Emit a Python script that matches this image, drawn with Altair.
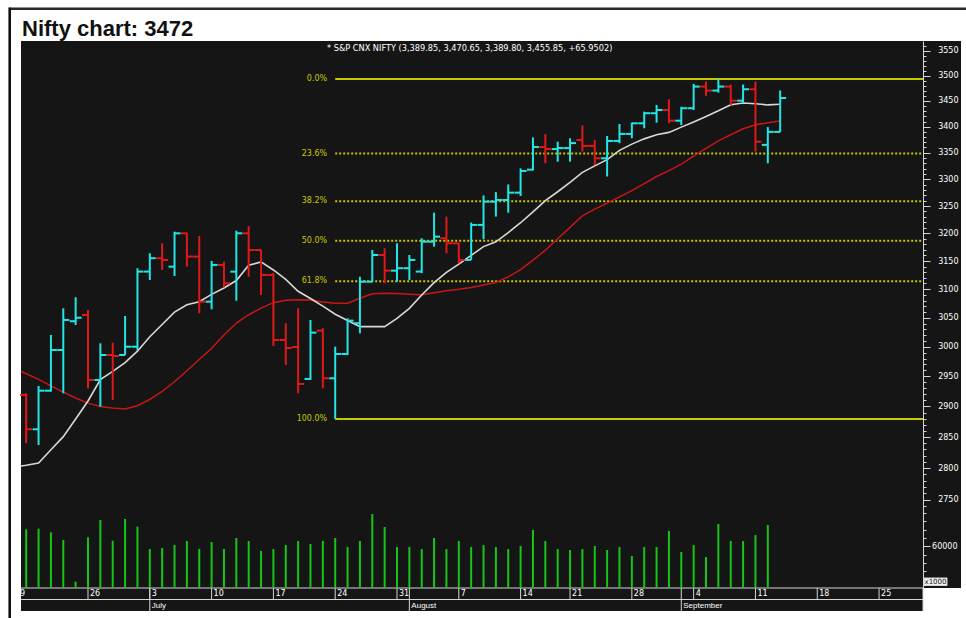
import altair as alt
import pandas as pd

# ---------------- data ----------------
calendar = [d.strftime("%Y-%m-%d") for d in pd.bdate_range("2006-06-16", "2006-09-29")
            if d.strftime("%Y-%m-%d") != "2006-08-15"]

ma_dates = calendar[0:63]      # 16 Jun .. 13 Sep
bar_dates = calendar[1:63]     # 19 Jun .. 13 Sep
vol_dates = calendar[1:62]     # 19 Jun .. 12 Sep

opens = [2919, 2862.6, 2926.1, 2994.6, 3044, 3054.8, 2944, 2986.1, 2986.1, 3000.2,
         3131.1, 3155, 3139.9, 3200, 3157.9, 3078, 3143, 3131, 3200, 3169.8,
         3125.1, 3011.7, 2999.7, 2945.7, 3027.8, 2946.8, 2987.8, 3040.5, 3113.2, 3160.8,
         3132.8, 3137.1, 3131.1, 3184.8, 3191, 3181.9, 3151.9, 3215.3, 3258.1, 3261.2,
         3274.8, 3317.9, 3360.8, 3357, 3358.9, 3374.4, 3362.9, 3339.4, 3372.5, 3386,
         3406.5, 3426.1, 3432.4, 3411.6, 3435.8, 3478.4, 3470.5, 3478.4, 3450.6, 3473.1,
         3365, 3389.85]
highs = [2921.8, 2933.9, 3020.3, 3066.5, 3085.8, 3063.5, 3006, 3007, 3053.1, 3137,
         3163.9, 3181.9, 3203, 3201.2, 3195.2, 3150.1, 3148.8, 3204.8, 3213.3, 3169.8,
         3128.3, 3040.5, 3066.5, 3046.2, 3031.9, 3000.2, 3049.1, 3122, 3169.8, 3172.9,
         3181.9, 3160.8, 3191, 3237.8, 3230.5, 3183, 3219.5, 3269.6, 3275.8, 3290.2,
         3320.4, 3379.3, 3385.6, 3371.1, 3377.6, 3402.2, 3374.4, 3382.1, 3405.2, 3407.7,
         3429.2, 3442.3, 3453.6, 3438.7, 3483.7, 3488.3, 3493.4, 3482.4, 3482.4, 3488.3,
         3399.2, 3470.65]
lows = [2840, 2837.2, 2924.5, 2921.8, 3037.5, 2930, 2899.7, 2910.7, 2986.1, 2994.6,
        3116.2, 3134, 3123.3, 3139.9, 3057.8, 3064.7, 3103.3, 3079.7, 3122, 3089.8,
        3001.4, 2969.2, 2921.8, 2944, 2930, 2879.5, 2986, 3023.2, 3113.2, 3110.3,
        3113.2, 3116.2, 3128.3, 3175.8, 3163.9, 3146, 3151.9, 3189.2, 3230.5, 3237.8,
        3268.6, 3316.6, 3329.9, 3333, 3333, 3352.4, 3326.8, 3305, 3368.2, 3377.6,
        3396.9, 3407.7, 3406.5, 3403.2, 3432.4, 3460, 3466.4, 3442.3, 3445.6, 3352.4,
        3329.9, 3389.8]
closes = [2862.6, 2926.1, 2994.6, 3046.2, 3050, 2944, 2986.1, 2984.4, 3000.2, 3131.1,
          3155, 3151.9, 3200, 3157.9, 3078, 3143, 3110.3, 3200, 3169.8, 3125.1,
          3011.7, 2998, 2937.3, 3024.3, 2946.8, 2987.8, 3045, 3113.2, 3160.8, 3132.8,
          3137.1, 3151.9, 3184.8, 3193.9, 3181.9, 3151.9, 3215.3, 3258.1, 3261.2, 3274.8,
          3315.4, 3360.8, 3357, 3358.9, 3368.4, 3362.9, 3339.4, 3372.5, 3386, 3406.5,
          3426.1, 3432.4, 3411.6, 3435.8, 3478.4, 3470.5, 3478.4, 3450.6, 3473.1, 3371.1,
          3389.9, 3455.85]
volumes = [84500, 85400, 80200, 69100, 9100, 73000, 97900, 68100, 99400, 88300,
           56200, 57600, 61900, 67700, 56200, 66200, 56200, 72000, 67700, 53300,
           56200, 61900, 67700, 63400, 67700, 72000, 59000, 67700, 106600, 87800,
           59000, 59000, 56200, 72000, 56200, 67700, 59000, 61900, 59000, 56200,
           60500, 83500, 67700, 56200, 54700, 56200, 60500, 54700, 59000, 46100,
           59000, 59000, 82100, 51800, 61900, 44600, 92200, 67700, 67700, 76300,
           90700]
ma_fast = [2802, 2804.7, 2808.3, 2829.4, 2850.6, 2879.3, 2909, 2944.5, 2958.3, 2973.2,
           2992.6, 3017.2, 3038.4, 3059.7, 3072.5, 3077.9, 3090.8, 3102.1, 3115.2, 3142.4,
           3148.3, 3134, 3117.4, 3096.3, 3083.5, 3070.1, 3056.1, 3045.3, 3034.6, 3034.6,
           3034.6, 3049, 3066.3, 3089.8, 3111.6, 3129.8, 3144.5, 3160.2, 3175.9, 3184.6,
           3201.3, 3219.3, 3239.3, 3260.1, 3276.5, 3294, 3312.8, 3325.1, 3336.8, 3354.5,
           3366.4, 3376.5, 3384.3, 3389, 3399.1, 3409.1, 3419.8, 3430.8, 3442.8, 3446.2,
           3444.6, 3442.3, 3443.5]
ma_slow = [2964, 2954.5, 2945, 2934.1, 2923.7, 2914, 2905.5, 2900, 2897.5, 2895.7,
           2901.1, 2911.8, 2924.8, 2941, 2959.4, 2978.4, 2997.5, 3020.1, 3040.9, 3055.2,
           3066.8, 3076.3, 3080.6, 3081.5, 3080.8, 3077.3, 3075.3, 3075.4, 3084, 3092,
           3092.8, 3092.2, 3091, 3090.2, 3093.8, 3097, 3099.8, 3103.1, 3107.4, 3111.8,
           3121.7, 3134.7, 3151.4, 3169.4, 3190, 3210.8, 3232.1, 3244.2, 3255.5, 3267.1,
           3278.7, 3291.5, 3305, 3316.2, 3328.2, 3343.4, 3358.2, 3372.5, 3384.5, 3395.9,
           3403.8, 3407.5, 3411]

fib_labels = ["0.0%", "23.6%", "38.2%", "50.0%", "61.8%", "100.0%"]
fib_prices = [3493.4, 3348.5, 3258.9, 3186.5, 3114.0, 2879.5]
fib_solid = [True, False, False, False, False, True]
fib_start = "2006-07-24"

week_labels = ["19", "26", "3", "10", "17", "24", "31", "7", "14", "21", "28", "4", "11", "18", "25"]
week_dates = ["2006-06-19", "2006-06-26", "2006-07-03", "2006-07-10", "2006-07-17", "2006-07-24",
              "2006-07-31", "2006-08-07", "2006-08-14", "2006-08-21", "2006-08-28", "2006-09-04",
              "2006-09-11", "2006-09-18", "2006-09-25"]
month_labels = ["July", "August", "September"]
month_dates = ["2006-07-03", "2006-08-01", "2006-09-01"]

price_ticks = list(range(2750, 3551, 50))
price_minor = list(range(2730, 3561, 10))
vol_ticks = [60000]
vol_minor = list(range(12000, 96001, 12000))

header_text = "* S&P CNX NIFTY (3,389.85, 3,470.65, 3,389.80, 3,455.85, +65.9502)"
title_text = "Nifty chart: 3472"
unit_text = "x1000"

# ---------------- tables ----------------
pos = {d: k for k, d in enumerate(calendar)}
ohlc = pd.DataFrame({"date": bar_dates, "open": opens, "high": highs, "low": lows, "close": closes})
ohlc["i"] = [pos[d] for d in bar_dates]
vol = pd.DataFrame({"date": vol_dates, "vol": volumes})
vol["i"] = [pos[d] for d in vol_dates]
vol["zero"] = 0
ma = pd.DataFrame({"date": ma_dates, "fast": ma_fast, "slow": ma_slow})
ma["i"] = [pos[d] for d in ma_dates]
fib = pd.DataFrame({"label": fib_labels, "price": fib_prices, "solid": fib_solid})
fib["i"] = pos[fib_start]
weeks = pd.DataFrame({"label": week_labels, "date": week_dates})
weeks["i"] = [pos[d] for d in week_dates]
months = pd.DataFrame({"label": month_labels, "date": month_dates})
months["i"] = [pos[d] for d in month_dates]
one = pd.DataFrame({"t": [title_text], "h": [header_text], "u": [unit_text]})

# ---------------- style ----------------
W, H = 902, 547
BG = "#151515"
CYAN = "#22e6e6"
RED = "#e01818"
GREEN = "#18c418"
YEL = "#c8c800"
AX = "#d6d6d6"
FONT = "DejaVu Sans"

XDOM = [0.5793, 73.556]
PDOM = [2615.6, 3569.7]
VDOM = [0, 787680]

xs = alt.Scale(domain=XDOM, nice=False, zero=False)
ps = alt.Scale(type="log", domain=PDOM, nice=False, zero=False)
vs = alt.Scale(domain=VDOM, nice=False, zero=False)
X = alt.X("i:Q", scale=xs, axis=None)

major_axis = alt.Axis(orient="right", values=price_ticks, format="d", tickSize=7, tickColor=AX,
                      domainColor=AX, labelColor="white", labelFont=FONT, labelFontSize=8,
                      labelAlign="right", labelPadding=28, labelBaseline="middle",
                      labelFlush=False, labelOverlap=False, grid=False, title=None, zindex=2)
minor_axis = alt.Axis(orient="right", values=price_minor, tickSize=3, tickColor=AX, labels=False,
                      domain=False, grid=False, title=None, zindex=2)
vmajor_axis = alt.Axis(orient="right", values=vol_ticks, format="d", tickSize=7, tickColor=AX,
                       domain=False, labelColor="white", labelFont=FONT, labelFontSize=8,
                       labelAlign="right", labelPadding=27, labelBaseline="middle",
                       labelFlush=False, labelOverlap=False, grid=False, title=None, zindex=2)
vminor_axis = alt.Axis(orient="right", values=vol_minor, tickSize=3, tickColor=AX, labels=False,
                       domain=False, grid=False, title=None, zindex=2)

# ---------------- backgrounds & frame ----------------
base1 = alt.Chart(one)
bg_right = base1.mark_rect(color=BG).encode(x=alt.value(W), x2=alt.value(940),
                                           y=alt.value(0), y2=alt.value(H))
bg_strip = base1.mark_rect(color=BG).encode(x=alt.value(0), x2=alt.value(W),
                                           y=alt.value(H), y2=alt.value(570))
frame_top = base1.mark_rule(color="#2a2a2a", strokeWidth=2.5).encode(
    x=alt.value(-11.5), x2=alt.value(945), y=alt.value(-32.3))
frame_left = base1.mark_rule(color="#111111", strokeWidth=2.6).encode(
    x=alt.value(-11.3), y=alt.value(-33.5), y2=alt.value(577))
title = base1.mark_text(align="left", baseline="alphabetic", font="Liberation Sans", fontSize=22,
                        fontWeight="bold", color="#111111").encode(
    x=alt.value(1), y=alt.value(-5.3), text="t:N")
header = base1.mark_text(align="left", baseline="middle", font=FONT, fontSize=8.2,
                         color="white").encode(x=alt.value(306), y=alt.value(8), text="h:N")
unit_box = base1.mark_rect(fill="#f0f0f0", stroke=AX).encode(
    x=alt.value(903), x2=alt.value(926), y=alt.value(537), y2=alt.value(544.5))
unit_lbl = base1.mark_text(align="center", baseline="middle", font=FONT, fontSize=7,
                           color="#151515").encode(x=alt.value(914.5), y=alt.value(541), text="u:N")

# ---------------- date strip ----------------
strip_lines = alt.layer(
    base1.mark_rule(color=AX, strokeWidth=1).encode(x=alt.value(0), x2=alt.value(W), y=alt.value(H)),
    base1.mark_rule(color=AX, strokeWidth=1).encode(x=alt.value(0), x2=alt.value(W), y=alt.value(558.5)),
    base1.mark_rule(color=AX, strokeWidth=1).encode(x=alt.value(W), y=alt.value(H), y2=alt.value(570)),
)
wk = alt.Chart(weeks)
week_sep = wk.transform_filter("datum.i > 1").mark_rule(color=AX, strokeWidth=1).encode(
    x=X, y=alt.value(H), y2=alt.value(558.5))
week_txt = wk.transform_filter("datum.i > 1").mark_text(
    align="left", baseline="middle", dx=2, font=FONT, fontSize=8, color="white").encode(
    x=X, y=alt.value(552.5), text="label:N")
week_first = wk.transform_filter("datum.i <= 1").mark_text(
    align="right", baseline="middle", dx=-1, font=FONT, fontSize=8, color="white").encode(
    x=X, y=alt.value(552.5), text="label:N")
mo = alt.Chart(months)
month_sep = mo.mark_rule(color=AX, strokeWidth=1).encode(x=X, y=alt.value(H), y2=alt.value(570))
month_txt = mo.mark_text(align="left", baseline="middle", dx=2, font="Liberation Sans", fontSize=8,
                         color="white").encode(x=X, y=alt.value(564.5), text="label:N")

# ---------------- price pane ----------------
bars = alt.Chart(ohlc).transform_calculate(dir="datum.close >= datum.open ? 'up' : 'down'")
C = alt.Color("dir:N", scale=alt.Scale(domain=["up", "down"], range=[CYAN, RED]), legend=None)
hl = bars.mark_rule(strokeWidth=2).encode(
    x=X, y=alt.Y("low:Q", scale=ps, axis=major_axis), y2="high:Q", color=C)
op = bars.mark_rule(strokeWidth=2, xOffset=-6, x2Offset=0).encode(
    x=X, x2="i:Q", y=alt.Y("open:Q", scale=ps, axis=minor_axis), color=C)
cl = bars.mark_rule(strokeWidth=2, xOffset=0, x2Offset=6).encode(
    x=X, x2="i:Q", y=alt.Y("close:Q", scale=ps, axis=None), color=C)

mab = alt.Chart(ma)
ma_s = mab.mark_line(color="#c81616", strokeWidth=1.5, clip=True).encode(
    x=X, y=alt.Y("slow:Q", scale=ps, axis=None))
ma_f = mab.mark_line(color="#d8d8d8", strokeWidth=1.6, clip=True).encode(
    x=X, y=alt.Y("fast:Q", scale=ps, axis=None))

fb = alt.Chart(fib)
fib_s = fb.transform_filter("datum.solid").mark_rule(color=YEL, strokeWidth=2).encode(
    x=X, x2=alt.value(W), y=alt.Y("price:Q", scale=ps, axis=None))
fib_d = fb.transform_filter("!datum.solid").mark_rule(color=YEL, strokeWidth=2, strokeDash=[2, 2]).encode(
    x=X, x2=alt.value(W), y=alt.Y("price:Q", scale=ps, axis=None))
fib_t = fb.mark_text(align="right", baseline="middle", dx=-8, font=FONT, fontSize=8, color=YEL).encode(
    x=X, y=alt.Y("price:Q", scale=ps, axis=None), text="label:N")

price = alt.layer(fib_s, fib_d, fib_t, ma_s, ma_f, hl, op, cl).resolve_axis(y="independent")

# ---------------- volume pane ----------------
vb = alt.Chart(vol)
vbar = vb.mark_rule(color=GREEN, strokeWidth=2).encode(
    x=X, y=alt.Y("vol:Q", scale=vs, axis=vmajor_axis), y2="zero:Q")
vmin = vb.mark_rule(opacity=0).encode(
    x=X, y=alt.Y("vol:Q", scale=vs, axis=vminor_axis))
volume = alt.layer(vbar, vmin).resolve_axis(y="independent")

chart = alt.layer(
    bg_right, bg_strip, frame_top, frame_left, title, header,
    strip_lines, week_sep, week_txt, week_first, month_sep, month_txt,
    volume, price, unit_box, unit_lbl,
).resolve_scale(y="independent").properties(
    width=W, height=H,
    background="white",
    padding={"left": 21, "top": 41, "right": 43, "bottom": 30},
    autosize=alt.AutoSizeParams(type="none"),
).configure_view(fill=BG, stroke=None)

chart.save("out.html", embed_options={"renderer": "svg", "actions": False})
